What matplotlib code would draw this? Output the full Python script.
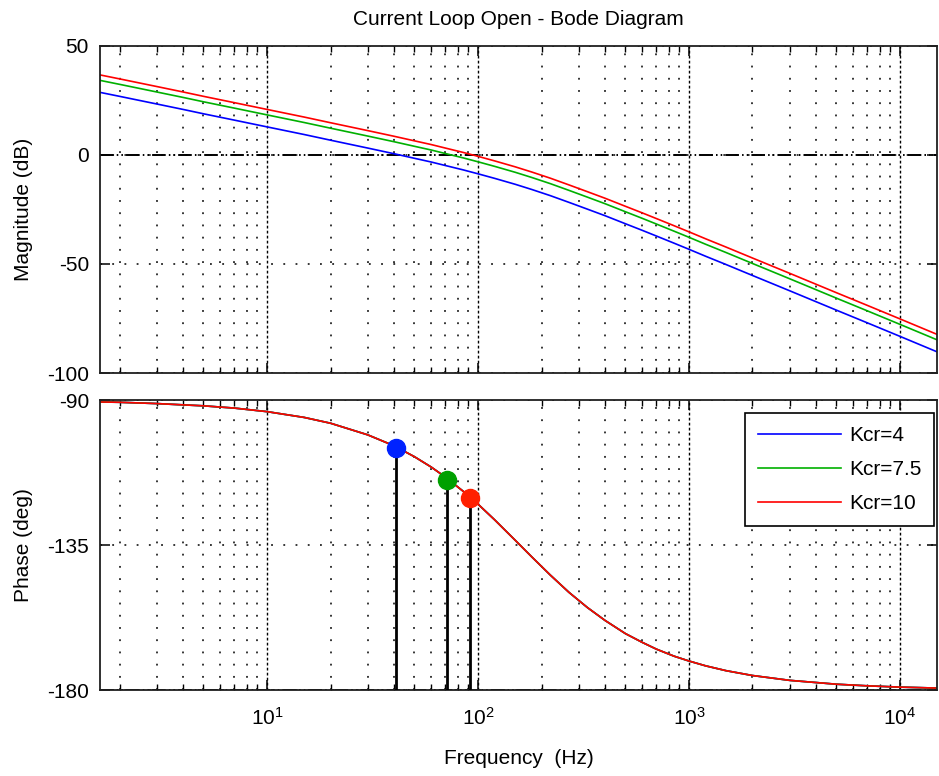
import matplotlib
matplotlib.use("Agg")
import matplotlib.pyplot as plt
from matplotlib.ticker import LogLocator, NullFormatter, LogFormatterMathtext, FixedLocator

plt.rcParams["font.family"] = ["Liberation Sans", "DejaVu Sans"]
plt.rcParams["mathtext.default"] = "regular"
plt.rcParams["axes.unicode_minus"] = False
plt.rcParams["font.size"] = 15

# ---- data ----
freq = [1.6, 2, 3, 4, 5, 7, 10, 15, 20, 30, 40, 50, 60, 70, 85, 100, 120, 150,
        180, 220, 270, 330, 400, 500, 600, 700, 850, 1000, 1200, 1500, 2000,
        3000, 5000, 7000, 10000, 15000]

mag_k4 = [28.7, 26.8, 23.3, 20.8, 18.8, 15.9, 12.8, 9.3, 6.7, 3.1, 0.5, -1.6,
          -3.3, -4.9, -6.9, -8.7, -10.8, -13.5, -15.9, -18.7, -21.8, -24.9,
          -27.9, -31.6, -34.6, -37.2, -40.5, -43.3, -46.5, -50.3, -55.3, -62.3,
          -71.2, -77.0, -83.2, -90.3]
mag_k75 = [34.2, 32.3, 28.8, 26.3, 24.3, 21.4, 18.3, 14.8, 12.2, 8.6, 6.0, 3.9,
           2.2, 0.6, -1.4, -3.2, -5.3, -8.0, -10.4, -13.2, -16.3, -19.4, -22.4,
           -26.1, -29.1, -31.7, -35.0, -37.8, -41.0, -44.8, -49.8, -56.8, -65.7,
           -71.5, -77.7, -84.8]
mag_k10 = [36.7, 34.8, 31.3, 28.8, 26.8, 23.9, 20.8, 17.3, 14.7, 11.1, 8.5, 6.4,
           4.7, 3.1, 1.1, -0.7, -2.8, -5.5, -7.9, -10.7, -13.8, -16.9, -19.9,
           -23.6, -26.6, -29.2, -32.5, -35.3, -38.5, -42.3, -47.3, -54.3, -63.2,
           -69.0, -75.2, -82.3]

# phase is the same for all three gains
phase = [-90.6, -90.7, -91.1, -91.5, -91.8, -92.5, -93.6, -95.4, -97.2, -100.8,
         -104.2, -107.6, -110.8, -113.9, -118.3, -122.3, -127.2, -133.5, -138.7,
         -144.3, -149.7, -154.4, -158.4, -162.5, -165.2, -167.3, -169.5, -171.0,
         -172.5, -174.0, -175.5, -177.0, -178.2, -178.7, -179.1, -179.4]

labels = ["Kcr=4", "Kcr=7.5", "Kcr=10"]
line_colors = ["#0000ff", "#00b000", "#ff0000"]
marker_colors = ["#0022ff", "#00a000", "#ff2000"]

# gain crossover points
cross_freq = [40.7, 71, 92]
cross_phase = [-104.9, -114.7, -120.4]

# ---- figure ----
fig = plt.figure(figsize=(9.39, 7.76), dpi=100)
ax_mag = fig.add_axes([0.1065, 0.5193, 0.8915, 0.4218])
ax_ph = fig.add_axes([0.1065, 0.1108, 0.8915, 0.3737])

mags = [mag_k4, mag_k75, mag_k10]
for m, c, lab in zip(mags, line_colors, labels):
    ax_mag.plot(freq, m, color=c, lw=1.2, label=lab)
    ax_ph.plot(freq, phase, color=c, lw=1.2, label=lab)

for fx, px, mc in zip(cross_freq, cross_phase, marker_colors):
    ax_ph.plot([fx, fx], [px, -180], color="black", lw=2.0, zorder=3)
    ax_ph.plot(fx, px, "o", color=mc, ms=13, zorder=4)

refline = dict(color="black", lw=1.4, ls=(0, (7, 1.6, 0.8, 1.6, 0.8, 1.6)), zorder=1)
ax_mag.axhline(0, **refline)
ax_ph.axhline(-180, **refline)

dot = (0, (1.2, 6.8))
xlim = (1.616, 1.5e4)
for ax in (ax_mag, ax_ph):
    ax.set_xscale("log")
    ax.set_xlim(*xlim)
    ax.xaxis.set_major_locator(LogLocator(base=10, numticks=10))
    ax.xaxis.set_minor_locator(LogLocator(base=10, subs=range(2, 10), numticks=50))
    ax.xaxis.set_minor_formatter(NullFormatter())
    ax.tick_params(which="both", direction="in", top=True, right=True,
                   colors="black", labelsize=15)
    ax.tick_params(which="major", length=7, width=1.1)
    ax.tick_params(which="minor", length=4.5, width=1.0)
    ax.tick_params(axis="y", pad=8)
    ax.grid(True, which="major", axis="x", color="black", ls=(0, (2, 1.6)), lw=1.0)
    ax.grid(True, which="major", axis="y", color="black", ls=dot, lw=1.1)
    ax.grid(True, which="minor", axis="x", color="black", ls=dot, lw=1.1)
    for sp in ax.spines.values():
        sp.set_linewidth(1.3)
        sp.set_color("#202020")

ax_mag.set_ylim(-100, 50)
ax_mag.yaxis.set_major_locator(FixedLocator([-100, -50, 0, 50]))
ax_mag.xaxis.set_major_formatter(NullFormatter())
ax_mag.set_ylabel("Magnitude (dB)", fontsize=15, labelpad=10)
ax_mag.set_title("Current Loop Open - Bode Diagram", fontsize=15, pad=15)

ax_ph.set_ylim(-180, -90)
ax_ph.yaxis.set_major_locator(FixedLocator([-180, -135, -90]))
ax_ph.xaxis.set_major_formatter(LogFormatterMathtext())
ax_ph.tick_params(axis="x", pad=12)
ax_ph.set_ylabel("Phase (deg)", fontsize=15, labelpad=10)
ax_ph.set_xlabel("Frequency  (Hz)", fontsize=15, labelpad=15)

leg = ax_ph.legend(loc="upper right", bbox_to_anchor=(0.9964, 0.955),
                   borderaxespad=0, handlelength=4.0, handletextpad=0.38,
                   labelspacing=0.72, borderpad=0.62, fancybox=False,
                   framealpha=1, edgecolor="black", fontsize=15)
leg.get_frame().set_linewidth(1.2)

fig.savefig("out.png", dpi=100)
